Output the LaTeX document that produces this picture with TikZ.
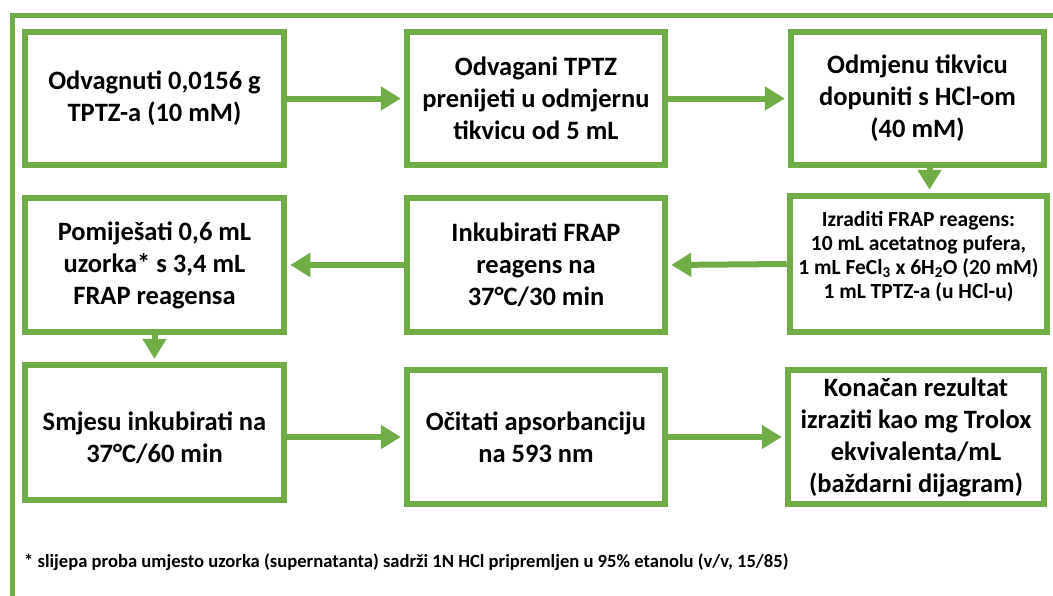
\documentclass[tikz,border=0pt]{standalone}
\usepackage{fontspec}
\setmainfont{Carlito}
\usetikzlibrary{arrows.meta}
\definecolor{grn}{RGB}{112,173,71}
\begin{document}
\begin{tikzpicture}[x=1pt,y=-1pt,
  box/.style={draw=grn,line width=6.5pt,fill=white,align=center,inner sep=0pt,
    font=\fontsize{26.5}{32}\selectfont\bfseries,text=black},
  conn/.style={draw=grn,line width=6pt,shorten >=3pt,-{Triangle[length=20pt,width=23pt]}},
  small/.style={font=\fontsize{21.5}{24}\selectfont\bfseries}]
\useasboundingbox (0,0) rectangle (1053,595);
\fill[white] (0,0) rectangle (1053,595);
\draw[grn,line width=5pt,line join=miter] (12,600) -- (12,15) -- (1060,15);
% row 1
\node[box,minimum width=259pt,minimum height=133pt] (b1) at (154.5,98.5) {Odvagnuti 0,0156 g\\TPTZ-a (10 mM)};
\node[box,minimum width=258pt,minimum height=133pt] (b2) at (536,98.5) {Odvagani TPTZ\\prenijeti u odmjernu\\tikvicu od 5 mL};
\node[box,minimum width=253pt,minimum height=133pt] (b3) at (917.5,98.5) {Odmjenu tikvicu\\dopuniti s HCl-om\\(40 mM)};
% row 2
\node[box,small,minimum width=257pt,minimum height=136pt] (b4) at (918.5,264) {Izraditi FRAP reagens:\\10 mL acetatnog pufera,\\1 mL FeCl\textsubscript{3} x 6H\textsubscript{2}O (20 mM)\\1 mL TPTZ-a (u HCl-u)\\[-6pt]\mbox{}};
\node[box,minimum width=258pt,minimum height=134pt] (b5) at (536,265) {Inkubirati FRAP\\reagens na\\37°C/30 min};
\node[box,minimum width=259pt,minimum height=134pt] (b6) at (154.5,265) {Pomiješati 0,6 mL\\uzorka* s 3,4 mL\\FRAP reagensa};
% row 3
\node[box,minimum width=259pt,minimum height=135pt] (b7) at (154.5,432.5) {\rule{0pt}{30pt}Smjesu inkubirati na\\37°C/60 min};
\node[box,minimum width=258pt,minimum height=134pt] (b8) at (536,437) {Očitati apsorbanciju\\na 593 nm};
\node[box,minimum width=256pt,minimum height=134pt] (b9) at (916,437) {Konačan rezultat\\izraziti kao mg Trolox\\ekvivalenta/mL\\(baždarni dijagram)};
% connectors
\draw[conn] (b1.east) -- (b2.west);
\draw[conn] (b2.east) -- (b3.west);
\draw[conn] ([xshift=12pt]b3.south) -- ([xshift=11pt]b4.north);
\draw[conn] (b4.west) -- (b5.east);
\draw[conn] (b5.west) -- (b6.east);
\draw[conn] (b6.south) -- (b7.north);
\draw[conn] (b7.east |- b8.west) -- (b8.west);
\draw[conn] (b8.east) -- (b9.west);
% footnote
\node[anchor=west,inner sep=0pt,font=\fontsize{18.6}{23}\selectfont\bfseries] (fn) at (24,562) {* slijepa proba umjesto uzorka (supernatanta) sadrži 1N HCl pripremljen u 95\% etanolu (v/v, 15/85)};
\end{tikzpicture}
\end{document}
